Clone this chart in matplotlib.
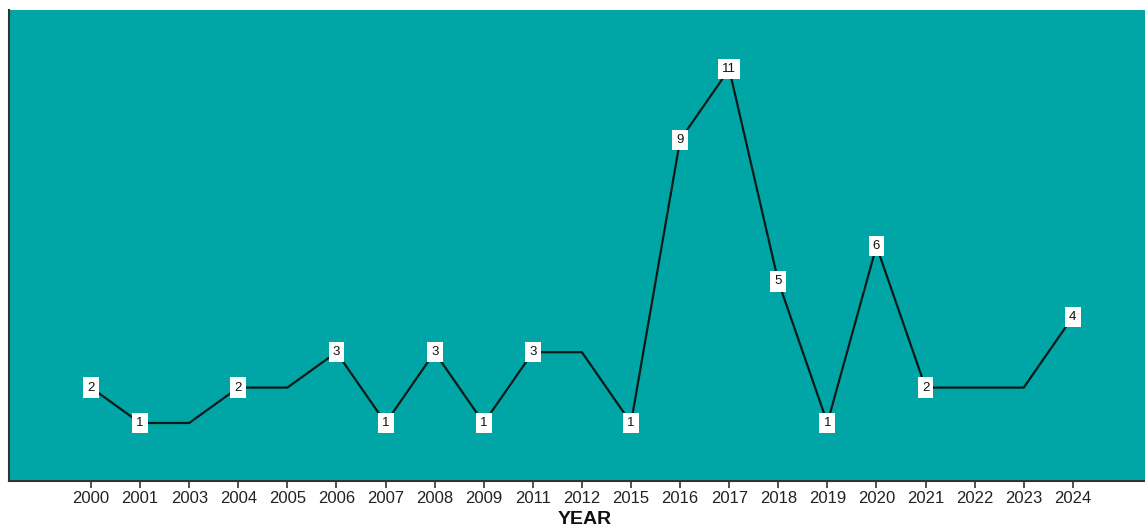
import matplotlib
matplotlib.use("Agg")
import matplotlib.pyplot as plt

years = ["2000", "2001", "2003", "2004", "2005", "2006", "2007", "2008", "2009", "2011",
         "2012", "2015", "2016", "2017", "2018", "2019", "2020", "2021", "2022", "2023", "2024"]
counts = [2, 1, 1, 2, 2, 3, 1, 3, 1, 3, 3, 1, 9, 11, 5, 1, 6, 2, 2, 2, 4]

plt.rcParams['font.family'] = ['Liberation Sans', 'DejaVu Sans']

fig = plt.figure(figsize=(11.45, 5.29), dpi=100)
ax = fig.add_axes([0.0079, 0.0907, 0.9921, 0.8903])
ax.set_facecolor("#00A6A5")

x = list(range(len(years)))
ax.plot(x, counts, color="#0a1a1a", linewidth=1.6, zorder=2)

# value boxes only where the count changes from the previous year
for i, v in enumerate(counts):
    if i == 0 or v != counts[i - 1]:
        ax.text(i, v, str(v), ha="center", va="center", fontsize=9.5, color="#111111",
                bbox=dict(boxstyle="square,pad=0.32", facecolor="white", edgecolor="none"),
                zorder=3)

ax.set_xlim(-1.67, 21.47)
ax.set_ylim(-0.64, 12.67)
ax.set_xticks(x)
ax.set_xticklabels(years, fontsize=12, color="#222222")
ax.set_yticks([])
ax.tick_params(axis="x", length=5, width=1.2, color="#333333", pad=2)

for side in ("top", "right"):
    ax.spines[side].set_visible(False)
ax.spines["left"].set_color("#333333")
ax.spines["left"].set_linewidth(1.5)
ax.spines["bottom"].set_color("#333333")
ax.spines["bottom"].set_linewidth(1.5)

fig.text(585 / 1145, 1 / 529, "YEAR", ha="center", va="bottom", fontsize=14,
         fontweight="bold", color="#111111")

fig.savefig("out.png", dpi=100)
